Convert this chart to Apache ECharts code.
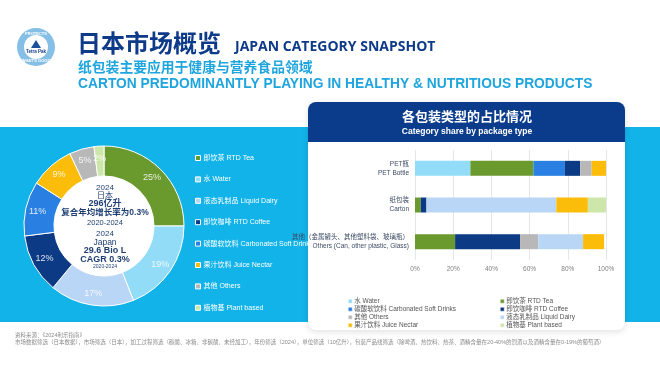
<!DOCTYPE html>
<html><head><meta charset="utf-8">
<script src="https://cdn.jsdelivr.net/npm/echarts@6/dist/echarts.min.js"></script>
<style>html,body{margin:0;padding:0;background:#fff}#c{width:660px;height:372px}</style>
</head><body><div id="c"></div>
<script>
// ---- data ----
var pieNames = ['即饮茶 RTD Tea','水 Water','液态乳制品 Liquid Dairy','即饮咖啡 RTD Coffee','碳酸软饮料 Carbonated Soft Drinks','果汁饮料 Juice Nectar','其他 Others','植物基 Plant based'];
var pieShares = [25, 19, 17, 12, 11, 9, 5, 2];
var barCategories = ['PET瓶\nPET Bottle', '纸包装\nCarton', '其他（金属罐头、其他塑料袋、玻璃瓶）\nOthers (Can, other plastic, Glass)'];
var barSeriesNames = ['水 Water','即饮茶 RTD Tea','碳酸软饮料 Carbonated Soft Drinks','即饮咖啡 RTD Coffee','其他 Others','液态乳制品 Liquid Dairy','果汁饮料 Juice Nectar','植物基 Plant based'];
var waterVals   = [29, 0, 0];
var teaVals     = [33, 3, 21];
var carbVals    = [16.5, 0, 0];
var coffeeVals  = [8, 3, 34];
var othersVals  = [6, 0, 9.5];
var dairyVals   = [0, 68, 23.5];
var juiceVals   = [7.5, 16.5, 11];
var plantVals   = [0, 9.5, 0];
var xTicks = [0, 20, 40, 60, 80, 100];

// ---- styles ----
var colorMap = {
  '即饮茶 RTD Tea':'#6a9a2e','水 Water':'#92dcf7','液态乳制品 Liquid Dairy':'#b9d6f6',
  '即饮咖啡 RTD Coffee':'#0c3a84','碳酸软饮料 Carbonated Soft Drinks':'#2a80e2',
  '果汁饮料 Juice Nectar':'#fbbd0a','其他 Others':'#b8b8b8','植物基 Plant based':'#cde6a9'
};
var barVals = [waterVals, teaVals, carbVals, coffeeVals, othersVals, dairyVals, juiceVals, plantVals];
var FF = 'Liberation Sans, Noto Sans CJK SC, sans-serif';
var navy = '#0e3a8a', cyan = '#1ea5de', band = '#12b3e9';

var chart = echarts.init(document.getElementById('c'));
var barSeries = barSeriesNames.map(function(n, i){
  return {type:'bar', name:n, stack:'s', barWidth:15, data:barVals[i],
    itemStyle:{color:colorMap[n]}, emphasis:{disabled:true}, z:3};
});
var centerLines = [
  ['2024',188,8,'normal'],['日本',196,8,'normal'],['296亿升',204,9,'bold'],
  ['复合年均增长率为0.3%',213,8.5,'bold'],['2020-2024',223,7.5,'normal'],
  ['2024',234,8,'normal'],['Japan',243,8.5,'normal'],['29.6 Bio L',251,9,'bold'],
  ['CAGR 0.3%',260,9,'bold'],['2020-2024',267,5,'normal']
];
var graphics = [
  {type:'rect', shape:{x:0,y:127,width:660,height:195}, style:{fill:band}, z:-10},
  {type:'circle', shape:{cx:104,cy:226,r:51}, style:{fill:'#fff'}, z:-9},
  {type:'rect', shape:{x:308,y:102,width:317,height:228,r:8}, style:{fill:'#fff', shadowBlur:6, shadowColor:'rgba(0,0,0,0.12)', shadowOffsetY:2}, z:-5},
  {type:'rect', shape:{x:308,y:102,width:317,height:40,r:[8,8,0,0]}, style:{fill:'#0b3c8c'}, z:-4},
  {type:'text', x:467, y:117, style:{text:'各包装类型的占比情况', fill:'#fff', font:'bold 13px '+FF, align:'center', verticalAlign:'middle'}},
  {type:'text', x:467, y:132, style:{text:'Category share by package type', fill:'#fff', font:'bold 8.5px '+FF, align:'center', verticalAlign:'middle'}},
  // logo
  {type:'circle', shape:{cx:36,cy:47,r:19}, style:{fill:'#86bfe6'}},
  {type:'circle', shape:{cx:36,cy:47,r:12}, style:{fill:'#fff'}},
  {type:'text', x:36, y:34, style:{text:'PROTECTS', fill:'#fff', font:'bold 4px '+FF, align:'center', verticalAlign:'middle'}},
  {type:'text', x:36, y:61, style:{text:"WHAT'S GOOD", fill:'#fff', font:'bold 4px '+FF, align:'center', verticalAlign:'middle'}},
  {type:'polygon', shape:{points:[[36,40],[31,48],[41,48]]}, style:{fill:'#1c4f9c'}},
  {type:'text', x:36, y:52, style:{text:'Tetra Pak', fill:'#0e3a8a', font:'bold 4.5px '+FF, align:'center', verticalAlign:'middle'}},
  // titles
  {type:'text', x:77, y:43, style:{text:'日本市场概览', fill:navy, font:'bold 24px Noto Sans CJK SC, sans-serif', verticalAlign:'middle'}},
  {type:'text', x:235, y:47, style:{text:'JAPAN CATEGORY SNAPSHOT', fill:navy, font:'bold 14px Open Sans, sans-serif', verticalAlign:'middle'}},
  {type:'text', x:78, y:67, style:{text:'纸包装主要应用于健康与营养食品领域', fill:cyan, font:'bold 13.8px Noto Sans CJK SC, sans-serif', verticalAlign:'middle'}},
  {type:'text', x:78, y:84, style:{text:'CARTON PREDOMINANTLY PLAYING IN HEALTHY & NUTRITIOUS PRODUCTS', fill:cyan, font:'bold 13.8px '+FF, verticalAlign:'middle'}},
  // footnote
  {type:'text', x:15, y:335, style:{text:'资料来源：《2024利乐指南》', fill:'#8a8a8a', font:'5.5px '+FF, verticalAlign:'middle'}},
  {type:'text', x:15, y:342, style:{text:'市场数据筛选（日本数据），市场筛选（日本），加工过程筛选（碳酸、冰箱、非碳酸、未经加工），年份筛选（2024），单位筛选（10亿升），包装产品线筛选（除啤酒、热饮料、热茶、酒精含量在20-40%的烈酒以及酒精含量在0-19%的葡萄酒）', fill:'#8a8a8a', font:'5.5px '+FF, verticalAlign:'middle'}}
];
centerLines.forEach(function(l){
  graphics.push({type:'text', x:105, y:l[1], z:10, style:{text:l[0], fill:'#1f3f73', font:l[3]+' '+l[2]+'px '+FF, align:'center', verticalAlign:'middle'}});
});

var legendCommon = {orient:'vertical', icon:'rect', itemStyle:{borderColor:'#fff', borderWidth:0.5}};
chart.setOption({
  animation:false,
  graphic:graphics,
  legend:[
    Object.assign({}, legendCommon, {left:190, top:149, itemWidth:5, itemHeight:5, itemGap:13.4,
      itemStyle:{borderColor:'#fff', borderWidth:1},
      textStyle:{color:'#fff', fontSize:7, fontFamily:FF, padding:[0,0,0,-2], lineHeight:8}, data:pieNames}),
    Object.assign({}, legendCommon, {left:343, top:293, itemWidth:4, itemHeight:4, itemGap:1.5,
      textStyle:{color:'#555', fontSize:6.5, fontFamily:FF, padding:[0,0,0,-3], lineHeight:6},
      data:['水 Water','碳酸软饮料 Carbonated Soft Drinks','其他 Others','果汁饮料 Juice Nectar']}),
    Object.assign({}, legendCommon, {left:495, top:293, itemWidth:4, itemHeight:4, itemGap:1.5,
      textStyle:{color:'#555', fontSize:6.5, fontFamily:FF, padding:[0,0,0,-3], lineHeight:6},
      data:['即饮茶 RTD Tea','即饮咖啡 RTD Coffee','液态乳制品 Liquid Dairy','植物基 Plant based']})
  ],
  grid:{left:415, right:54, top:150, height:110},
  xAxis:{type:'value', min:0, max:100, interval:20,
    axisLabel:{formatter:'{value}%', color:'#7f7f7f', fontSize:6.5, fontFamily:FF, margin:6},
    splitLine:{lineStyle:{color:'#e3e6ea'}}, axisLine:{show:false}, axisTick:{show:false}},
  yAxis:{type:'category', inverse:true, data:barCategories,
    axisLabel:{color:'#3d4d66', fontSize:6.5, fontFamily:FF, lineHeight:9, margin:6, align:'right'},
    axisLine:{show:false}, axisTick:{show:false}},
  series:[{
    type:'pie', center:[104,226], radius:[50,80], startAngle:90, clockwise:true,
    itemStyle:{borderColor:'#fff', borderWidth:1},
    label:{position:'inside', formatter:'{c}%', color:'rgba(255,255,255,0.85)', fontSize:9, fontFamily:FF},
    labelLine:{show:false}, emphasis:{disabled:true},
    data:pieNames.map(function(n,i){return {name:n, value:pieShares[i], itemStyle:{color:colorMap[n]}};})
  }].concat(barSeries)
});
</script></body></html>
